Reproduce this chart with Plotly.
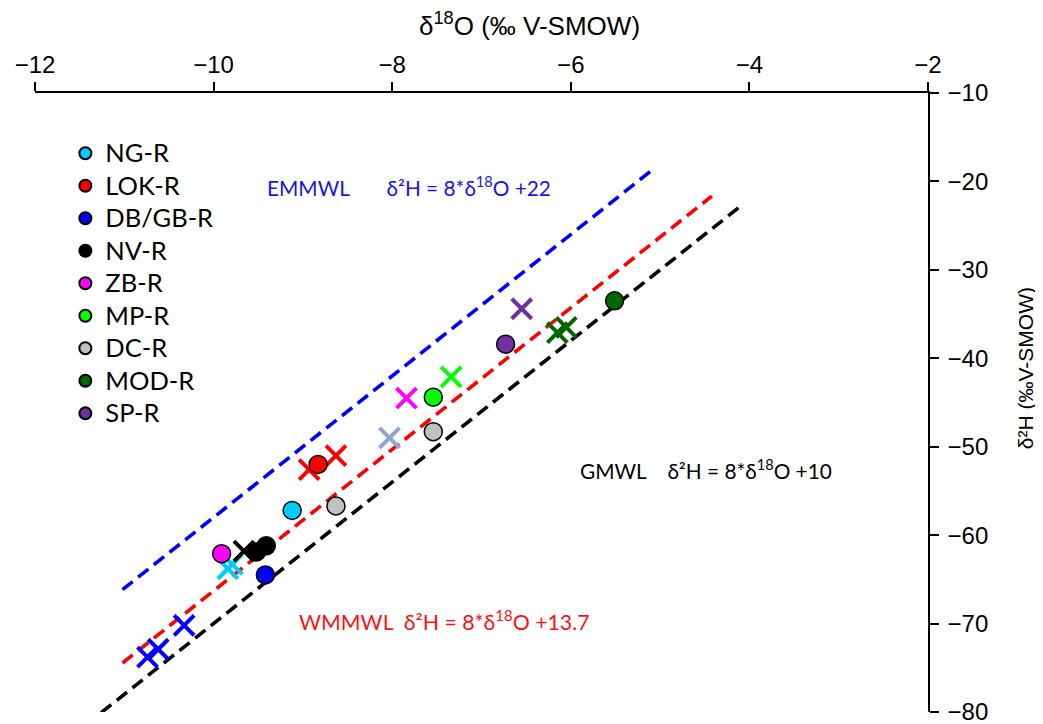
import plotly.graph_objects as go

# ---- data ----
series = ["NG-R", "LOK-R", "DB/GB-R", "NV-R", "ZB-R", "MP-R", "DC-R", "MOD-R", "SP-R"]
colors = ["#00CCFF", "#FF0000", "#0000FF", "#000000", "#FF00FF", "#00FF00", "#C0C0C0", "#006600", "#7030A0"]
cross_colors = ["#00CCFF", "#FF0000", "#0000FF", "#000000", "#FF00FF", "#00FF00", "#8EA6CC", "#006600", "#7030A0"]

# circles (filled markers)
circ_x = {
    "NG-R": [-9.12], "LOK-R": [-8.83], "DB/GB-R": [-9.42], "NV-R": [-9.52, -9.41],
    "ZB-R": [-9.91], "MP-R": [-7.54], "DC-R": [-8.63, -7.54], "MOD-R": [-5.51], "SP-R": [-6.73],
}
circ_y = {
    "NG-R": [-57.2], "LOK-R": [-52.0], "DB/GB-R": [-64.5], "NV-R": [-61.9, -61.2],
    "ZB-R": [-62.1], "MP-R": [-44.4], "DC-R": [-56.7, -48.3], "MOD-R": [-33.5], "SP-R": [-38.4],
}
# crosses
cross_x = {
    "NG-R": [-9.84, -9.79], "LOK-R": [-8.93, -8.63], "DB/GB-R": [-10.74, -10.62, -10.33],
    "NV-R": [-9.66], "ZB-R": [-7.84], "MP-R": [-7.34], "DC-R": [-8.03],
    "MOD-R": [-6.15, -6.05], "SP-R": [-6.55],
}
cross_y = {
    "NG-R": [-63.8, -63.3], "LOK-R": [-52.6, -51.0], "DB/GB-R": [-73.8, -72.9, -70.2],
    "NV-R": [-61.8], "ZB-R": [-44.5], "MP-R": [-42.1], "DC-R": [-49.0],
    "MOD-R": [-37.1, -36.5], "SP-R": [-34.4],
}

# meteoric water lines: slope, intercept, x-extent
lines = ["EMMWL", "WMMWL", "GMWL"]
line_slope = [8, 8, 8]
line_icpt = [22, 13.7, 10]
line_x0 = [-11.02, -11.02, -11.26]
line_x1 = [-5.06, -4.42, -4.08]
line_colors = ["#0000FF", "#FF0000", "#000000"]

x_ticks = [-12, -10, -8, -6, -4, -2]
y_ticks = [-80, -70, -60, -50, -40, -30, -20, -10]

fig = go.Figure()

for name, s, b, x0, x1, c in zip(lines, line_slope, line_icpt, line_x0, line_x1, line_colors):
    fig.add_trace(go.Scatter(
        x=[x0, x1], y=[s * x0 + b, s * x1 + b], mode="lines",
        line=dict(color=c, width=3.6, dash="13px,7px"), showlegend=False, hoverinfo="skip"))

for name, cc in zip(series, cross_colors):
    fig.add_trace(go.Scatter(
        x=cross_x[name], y=cross_y[name], mode="markers", showlegend=False,
        marker=dict(symbol="x-thin", size=20, line=dict(color=cc, width=4))))

for name, c in zip(series, colors):
    fig.add_trace(go.Scatter(
        x=circ_x[name], y=circ_y[name], mode="markers",
        name='<span style="font-size:25.5px">' + name + "</span>",
        marker=dict(symbol="circle", size=18, color=c, line=dict(color="#000000", width=1.5))))

ann_font = "Lato, Carlito, Calibri, sans-serif"
nb = "\u00a0"
fig.add_annotation(x=-9.43, y=-20.6, xanchor="left", yanchor="middle", showarrow=False,
                   text="EMMWL" + nb * 7 + "δ²H = 8*δ<sup>18</sup>O +22",
                   font=dict(family=ann_font, size=20.8, color="#1515E6"))
fig.add_annotation(x=-5.92, y=-52.6, xanchor="left", yanchor="middle", showarrow=False,
                   text="GMWL" + nb * 4 + "δ²H = 8*δ<sup>18</sup>O +10",
                   font=dict(family=ann_font, size=20.8, color="#000000"))
fig.add_annotation(x=-9.07, y=-69.6, xanchor="left", yanchor="middle", showarrow=False,
                   text="WMMWL" + nb * 2 + "δ²H = 8*δ<sup>18</sup>O +13.7",
                   font=dict(family=ann_font, size=21.3, color="#FF1010"))

# axis titles
fig.add_annotation(xref="paper", yref="paper", x=0.554, y=1.110, xanchor="center", yanchor="middle",
                   showarrow=False, text="δ<sup>18</sup>O (‰ V-SMOW)",
                   font=dict(family="Liberation Sans Narrow, Liberation Sans, Arial", size=26, color="black"))
fig.add_annotation(xref="paper", yref="paper", x=1.109, y=0.556, xanchor="center", yanchor="middle",
                   showarrow=False, text="δ²H (‰V-SMOW)", textangle=-90,
                   font=dict(family="Liberation Sans, Arial", size=21, color="black"))

fig.update_layout(
    width=1035, height=716,
    margin=dict(l=27, r=115, t=85, b=12),
    paper_bgcolor="white", plot_bgcolor="white",
    showlegend=True,
    legend=dict(x=0.034, y=0.937, xanchor="left", yanchor="top",
                font=dict(family=ann_font, size=22.7, color="#000000"),
                bgcolor="rgba(0,0,0,0)", itemsizing="constant", tracegroupgap=0),
    xaxis=dict(side="top", range=[-12, -2], tickvals=x_ticks, automargin=False,
               ticks="outside", ticklen=9, tickwidth=1.5, tickcolor="black",
               showline=True, linecolor="black", linewidth=1.5, showgrid=False, zeroline=False,
               tickfont=dict(family="Liberation Sans Narrow, Liberation Sans, Arial", size=24, color="black")),
    yaxis=dict(side="right", range=[-80, -10], tickvals=y_ticks, automargin=False,
               ticks="outside", ticklen=9, tickwidth=1.5, tickcolor="black",
               showline=True, linecolor="black", linewidth=1.5, showgrid=False, zeroline=False,
               ticklabelstandoff=4, ticklabeloverflow="allow",
               tickfont=dict(family="Liberation Sans, Arial", size=24, color="black")),
)

fig.write_html("out.html")
